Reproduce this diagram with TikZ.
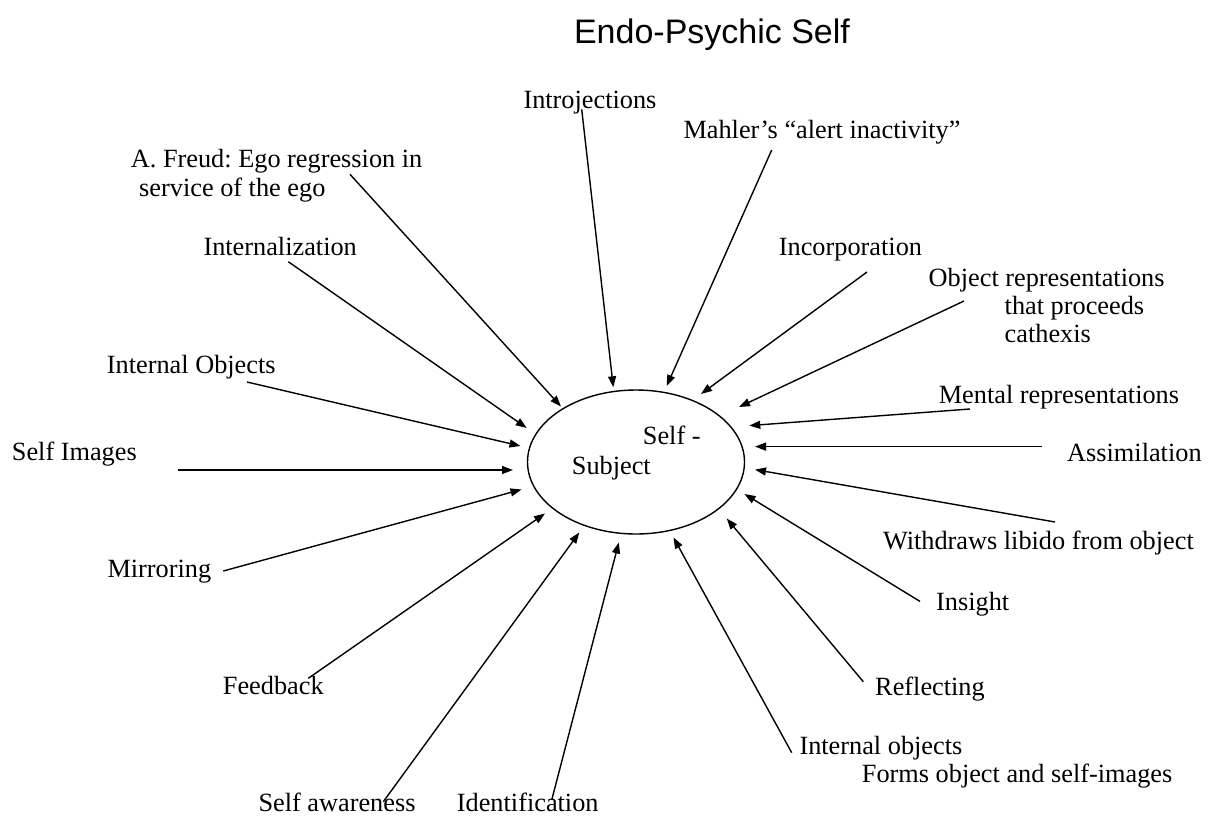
\documentclass[tikz,border=0pt]{standalone}
\usepackage{fontspec}
\setmainfont{Liberation Serif}
\newfontfamily\titlefont{Liberation Sans}
\usetikzlibrary{arrows.meta,shapes.geometric}
\frenchspacing
\begin{document}
\begin{tikzpicture}[x=1pt,y=-1pt,
  lbl/.style={anchor=base west,inner sep=0pt,font=\fontsize{26.3}{30}\selectfont},
  conn/.style={line width=1.4pt,-{Triangle[length=11pt,width=8pt]}},
  core/.style={draw,ellipse,line width=1.4pt,minimum width=217pt,minimum height=144pt,inner sep=0pt}
]
\useasboundingbox (0,0) rectangle (1212,817);
% title
\node[font=\titlefont\fontsize{34}{40}\selectfont,inner sep=0pt] (title) at (712,35) {Endo-Psychic Self};
% centre
\node[core] (self) at (636,462) {};
\node[lbl] (selfA) at (642.7,444) {Self -};
\node[lbl] (selfB) at (571.7,474) {Subject};
% labels
\node[lbl] (intro) at (523.3,108.3) {Introjections};
\node[lbl] (mahler) at (683.3,138.3) {Mahler’s “alert inactivity”};
\node[lbl] (freudA) at (130.7,167.3) {A. Freud: Ego regression in};
\node[lbl] (freudB) at (139,196.7) {service of the ego};
\node[lbl] (internal) at (203.3,255) {Internalization};
\node[lbl] (incorp) at (778.7,255.4) {Incorporation};
\node[lbl] (objA) at (928.5,286) {Object representations};
\node[lbl] (objB) at (1004.5,314) {that proceeds};
\node[lbl] (objC) at (1004.5,342) {cathexis};
\node[lbl] (intobj) at (106.7,373.3) {Internal Objects};
\node[lbl] (mental) at (938.6,403) {Mental representations};
\node[lbl] (selfimg) at (11.7,460.7) {Self Images};
\node[lbl] (assim) at (1067,461) {Assimilation};
\node[lbl] (withdr) at (882.8,549) {Withdraws libido from object};
\node[lbl] (mirror) at (107.3,577.3) {Mirroring};
\node[lbl] (insight) at (936,610) {Insight};
\node[lbl] (feedback) at (222.7,694.3) {Feedback};
\node[lbl] (reflect) at (875,695) {Reflecting};
\node[lbl] (intobjA) at (799.3,754) {Internal objects};
\node[lbl] (intobjB) at (861.7,782.7) {Forms object and self-images};
\node[lbl] (aware) at (258.3,811.7) {Self awareness};
\node[lbl] (ident) at (456.7,811.7) {Identification};
% arrow ends
\coordinate (s1) at (581.7,109.3); \coordinate (t1) at (613.3,387.3);
\coordinate (s2) at (771.7,150);   \coordinate (t2) at (666.7,386);
\coordinate (s3) at (350,174.3);   \coordinate (t3) at (561,406.5);
\coordinate (s4) at (288.3,261.7); \coordinate (t4) at (526.7,428);
\coordinate (s5) at (867,272);     \coordinate (t5) at (701,394);
\coordinate (s6) at (964,301);     \coordinate (t6) at (739,407);
\coordinate (s7) at (247,382);     \coordinate (t7) at (520.5,446);
\coordinate (s8) at (970,409);     \coordinate (t8) at (749.3,425.6);
\coordinate (s9) at (178,470);     \coordinate (t9) at (513,470);
\coordinate (s10) at (1041.7,446.6); \coordinate (t10) at (755,446.6);
\coordinate (s11) at (1055,522);   \coordinate (t11) at (755,469.6);
\coordinate (s12) at (223.3,571);  \coordinate (t12) at (521.5,489.5);
\coordinate (s13) at (920,601.4);  \coordinate (t13) at (744.5,494);
\coordinate (s14) at (308.3,678.3); \coordinate (t14) at (545,513.5);
\coordinate (s15) at (863.3,681.7); \coordinate (t15) at (726.7,518.5);
\coordinate (s16) at (791.7,752.7); \coordinate (t16) at (673.5,537.5);
\coordinate (s17) at (383.3,801.7); \coordinate (t17) at (579.3,532.5);
\coordinate (s18) at (551.7,800);  \coordinate (t18) at (618.8,542.5);
\foreach \i in {1,...,18} {\draw[conn] (s\i) -- (t\i);}
\end{tikzpicture}
\end{document}
